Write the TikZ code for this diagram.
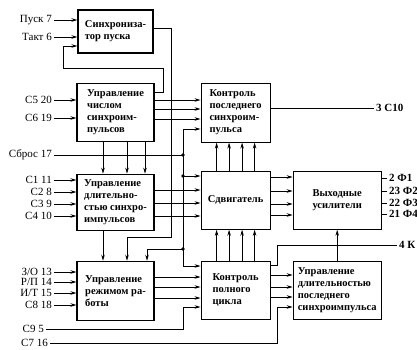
\documentclass[tikz,border=0pt]{standalone}
\usepackage{fontspec}
\setmainfont{Liberation Serif}
\usepackage{tikz}
\usetikzlibrary{arrows.meta, positioning}

\begin{document}
\begin{tikzpicture}[
    x=1pt, y=-1pt,
    block/.style={rectangle, draw, line width=1.1pt, align=left, inner sep=2pt, font=\fontsize{10.5}{12}\selectfont\bfseries},
    col1/.style={block, minimum width=77pt},
    col2/.style={block, minimum width=69pt},
    col3/.style={block, minimum width=88pt},
    lbl/.style={font=\fontsize{11}{13}\selectfont, inner sep=2pt},
    outlbl/.style={font=\fontsize{11}{13}\selectfont\bfseries, inner sep=2pt},
    wire/.style={line width=0.7pt},
    arrow/.style={wire, -{Stealth[length=6pt, width=3.5pt]}}
]
    \useasboundingbox (0,0) rectangle (417,350);

    % Left column
    \node[col1, minimum width=75pt, minimum height=43pt] (sync) at (115.5,31.5) {Синхрониза-\\тор пуска};
    \node[col1, minimum height=58pt, below=29pt of sync] (num) {Управление\\числом\\синхроим-\\пульсов};
    \node[col1, minimum height=56pt, below=32pt of num] (dl) {Управление\\длительно-\\стью синхро-\\импульсов};
    \node[col1, minimum height=59pt, below=30pt of dl] (mode) {Управление\\режимом ра-\\боты};

    % Middle column
    \node[col2, minimum height=59pt, right=46pt of num.north east, anchor=north west] (klast) {Контроль\\последнего\\синхроим-\\пульса};
    \node[col2, minimum height=58pt, below=28pt of klast] (shift) {Сдвигатель};
    \node[col2, minimum height=58pt, below=31pt of shift] (kfull) {Контроль\\полного\\цикла};

    % Right column
    \node[col3, minimum height=58pt, right=22pt of shift] (out) {Выходные\\усилители};
    \node[col3, minimum height=58pt, below=31pt of out] (lastdur) {Управление\\длительностью\\последнего\\синхроимпульса};

    % Inputs
    \node[lbl, anchor=east] (pusk) at (54,20) {Пуск 7};
    \node[lbl, anchor=east] (takt) at (54,37) {Такт 6};
    \node[lbl, anchor=east] (c5) at (54,100) {С5 20};
    \node[lbl, anchor=east] (c6) at (54,118) {С6 19};
    \node[lbl, anchor=east] (reset) at (54,155) {Сброс 17};
    \node[lbl, anchor=east] (c1) at (54,180) {С1 11};
    \node[lbl, anchor=east] (c2) at (54,192) {С2 8};
    \node[lbl, anchor=east] (c3) at (54,204) {С3 9};
    \node[lbl, anchor=east] (c4) at (54,216) {С4 10};
    \node[lbl, anchor=east] (zo) at (54,272) {З/О 13};
    \node[lbl, anchor=east] (rp) at (54,282) {Р/П 14};
    \node[lbl, anchor=east] (it) at (54,293) {И/Т 15};
    \node[lbl, anchor=east] (c8) at (54,305) {С8 18};
    \node[lbl, anchor=east] (c9) at (46,329) {С9 5};
    \node[lbl, anchor=east] (c7) at (50,343) {С7 16};

    % Outputs
    \node[outlbl, anchor=west] (c10) at (374,108) {3 С10};
    \node[outlbl, anchor=west] (f1) at (387,178) {2 Ф1};
    \node[outlbl, anchor=west] (f2) at (387,191) {23 Ф2};
    \node[outlbl, anchor=west] (f3) at (387,203) {22 Ф3};
    \node[outlbl, anchor=west] (f4) at (387,214) {21 Ф4};
    \node[outlbl, anchor=west] (k4) at (397,245) {4 К};

    % Buses
    \coordinate (rbus) at (183,155);
    \coordinate (sbus) at (171,237);

    % Start synchronizer
    \draw[arrow] (pusk) -- (pusk -| sync.west);
    \draw[arrow] (takt) -- (takt -| sync.west);
    \draw[arrow] (num.east |- 0,92) -| (163,68) -| (63,46) -- (sync.west |- 0,46);
    \draw[arrow] (sync.east |- 0,28) -| (sbus) -| ([xshift=11.5pt]mode.north);

    % Number of sync pulses
    \draw[arrow] (c5) -- (c5 -| num.west);
    \draw[arrow] (c6) -- (c6 -| num.west);
    \draw[arrow] (num.east |- 0,100) -- (klast.west |- 0,100);
    \draw[arrow] (num.east |- 0,109) -- (klast.west |- 0,109);
    \draw[arrow] (num.east |- 0,119) -- (klast.west |- 0,119);
    \draw[arrow] ([xshift=-12.5pt]num.south) -- ([xshift=-12.5pt]dl.north);
    \draw[arrow] ([xshift=11.5pt]num.south) -- ([xshift=11.5pt]dl.north);
    \draw[arrow] ([xshift=29.5pt]num.south) -- ([xshift=29.5pt]dl.north);

    % Reset bus
    \draw[wire] (reset) -- (rbus);
    \draw[arrow] (rbus) |- (klast.west |- 0,129);
    \draw[arrow] (rbus) |- (kfull.west |- 0,266);
    \draw[arrow] (rbus |- 0,176) -- (shift.west |- 0,176);
    \draw[arrow] (rbus |- 0,249) -| ([xshift=31.5pt]mode.north);
    \fill (rbus) circle (1.8pt) (rbus |- 0,176) circle (1.8pt) (rbus |- 0,249) circle (1.8pt);

    % Pulse duration
    \draw[arrow] (c1) -- (c1 -| dl.west);
    \draw[arrow] (c2) -- (c2 -| dl.west);
    \draw[arrow] (c3) -- (c3 -| dl.west);
    \draw[arrow] (c4) -- (c4 -| dl.west);
    \draw[arrow] (dl.east |- 0,190) -- (shift.west |- 0,190);
    \draw[arrow] (dl.east |- 0,203) -- (shift.west |- 0,203);
    \draw[arrow] (dl.east |- 0,216) -- (shift.west |- 0,216);
    \draw[arrow] ([xshift=-12.5pt]dl.south) -- ([xshift=-12.5pt]mode.north);

    % Shifter
    \draw[arrow] ([xshift=-19pt]shift.north) -- ([xshift=-19pt]klast.south);
    \draw[arrow] ([xshift=-6.5pt]shift.north) -- ([xshift=-6.5pt]klast.south);
    \draw[arrow] ([xshift=6.5pt]shift.north) -- ([xshift=6.5pt]klast.south);
    \draw[arrow] ([xshift=19pt]shift.north) -- ([xshift=19pt]klast.south);
    \draw[arrow] ([xshift=-19pt]kfull.north) -- ([xshift=-19pt]shift.south);
    \draw[arrow] ([xshift=-6.5pt]kfull.north) -- ([xshift=-6.5pt]shift.south);
    \draw[arrow] ([xshift=6.5pt]kfull.north) -- ([xshift=6.5pt]shift.south);
    \draw[arrow] ([xshift=19pt]kfull.north) -- ([xshift=19pt]shift.south);
    \draw[arrow] (shift.east |- 0,177) -- (out.west |- 0,177);
    \draw[arrow] (shift.east |- 0,191) -- (out.west |- 0,191);
    \draw[arrow] (shift.east |- 0,204) -- (out.west |- 0,204);
    \draw[arrow] (shift.east |- 0,215) -- (out.west |- 0,215);

    % Output lines
    \draw[wire] (klast.east |- c10) -- (c10);
    \draw[wire] (out.east |- f1) -- (f1);
    \draw[wire] (out.east |- f2) -- (f2);
    \draw[wire] (out.east |- f3) -- (f3);
    \draw[wire] (out.east |- f4) -- (f4);

    % Mode control
    \draw[arrow] (zo) -- (zo -| mode.west);
    \draw[arrow] (rp) -- (rp -| mode.west);
    \draw[arrow] (it) -- (it -| mode.west);
    \draw[arrow] (c8) -- (c8 -| mode.west);
    \draw[arrow] (mode.east |- 0,277) -- (kfull.west |- 0,277);
    \draw[arrow] (mode.east |- 0,287) -- (kfull.west |- 0,287);
    \draw[arrow] (mode.east |- 0,298) -- (kfull.west |- 0,298);
    \draw[arrow] (c9) -| (rbus |- 0,307) -- (kfull.west |- 0,307);

    % Full cycle control
    \draw[arrow] (kfull.east |- 0,275) -- (lastdur.west |- 0,275);
    \draw[arrow] (kfull.east |- 0,287) -- (lastdur.west |- 0,287);
    \draw[arrow] (kfull.east |- 0,297) -- (lastdur.west |- 0,297);
    \draw[arrow] (c7) -| (277,307) -- (lastdur.west |- 0,307);
    \draw[wire] (kfull.east |- 0,265) -| (277,245) -- (k4);
    \draw[arrow] (lastdur) -- (out);
\end{tikzpicture}
\end{document}
